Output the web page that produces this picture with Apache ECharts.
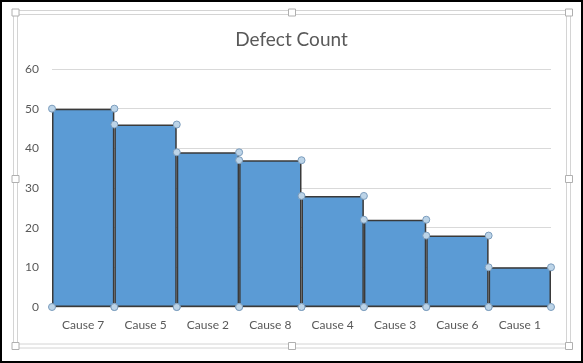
<!DOCTYPE html>
<html>
<head>
<meta charset="utf-8">
<script src="https://cdn.jsdelivr.net/npm/echarts@6/dist/echarts.min.js"></script>
<style>
html,body{margin:0;padding:0;background:#fff;}
#c{width:583px;height:363px;}
</style>
</head>
<body>
<div id="c"></div>
<script>
var categories = ["Cause 7","Cause 5","Cause 2","Cause 8","Cause 4","Cause 3","Cause 6","Cause 1"];
var defectCounts = [50,46,39,37,28,22,18,10];
var yTicks = {min:0, max:60, interval:10};

// corner markers derived from data (bar i spans i..i+1 on a hidden value axis)
var corners = [];
defectCounts.forEach(function(v,i){
  corners.push([i,0],[i,v],[i+1,v],[i+1,0]);
});

var chart = echarts.init(document.getElementById('c'), null, {renderer:'canvas'});
var font = 'Lato, "Open Sans", sans-serif';
var grey = '#595959';
var frame = '#d4d4d4';
function handle(cx, cy){
  return {type:'rect', shape:{x:cx-3.5,y:cy-3.5,width:7,height:7}, style:{fill:'#fff', stroke:'#b0b0b0', lineWidth:1}, z:10};
}
chart.setOption({
  animation:false,
  backgroundColor:'#fff',
  title:{text:'Defect Count', left:'center', top:25, textStyle:{fontFamily:font, fontSize:19, fontWeight:'normal', color:grey}},
  grid:{left:52, right:32, top:69, bottom:56, containLabel:false},
  xAxis:[
    {type:'category', data:categories, axisTick:{show:false}, axisLine:{show:true, lineStyle:{color:'#d9d9d9'}},
     axisLabel:{fontFamily:font, fontSize:12, color:grey, margin:12}},
    {type:'value', min:0, max:categories.length, show:false}
  ],
  yAxis:{type:'value', min:yTicks.min, max:yTicks.max, interval:yTicks.interval,
    axisLine:{show:false}, axisTick:{show:false},
    axisLabel:{fontFamily:font, fontSize:12, color:grey, margin:13},
    splitLine:{lineStyle:{color:'#d9d9d9', width:1}}},
  series:[
    {type:'bar', data:defectCounts, xAxisIndex:0, barCategoryGap:'0%', barGap:'0%',
     itemStyle:{color:'#5b9bd5', borderColor:'#3a3a3a', borderWidth:1.5}},
    {type:'scatter', data:corners, xAxisIndex:1, clip:false, symbol:'circle', symbolSize:7, z:5,
     itemStyle:{color:'#bcd4e8', borderColor:'#7c9dbd', borderWidth:1, opacity:1}}
  ],
  graphic:[
    {type:'rect', shape:{x:1,y:1,width:581,height:361}, style:{fill:null, stroke:'#000', lineWidth:2}, z:20},
    {type:'rect', shape:{x:13.5,y:10.5,width:557,height:337.5}, style:{fill:null, stroke:frame, lineWidth:1}, z:9},
    {type:'rect', shape:{x:17.5,y:14.5,width:549,height:329.5}, style:{fill:null, stroke:frame, lineWidth:1}, z:9},
    handle(15.5,12.5), handle(292,12.5), handle(569,12.5),
    handle(15.5,179), handle(569,179),
    handle(15.5,346), handle(292,346), handle(569,346)
  ]
});
</script>
</body>
</html>
